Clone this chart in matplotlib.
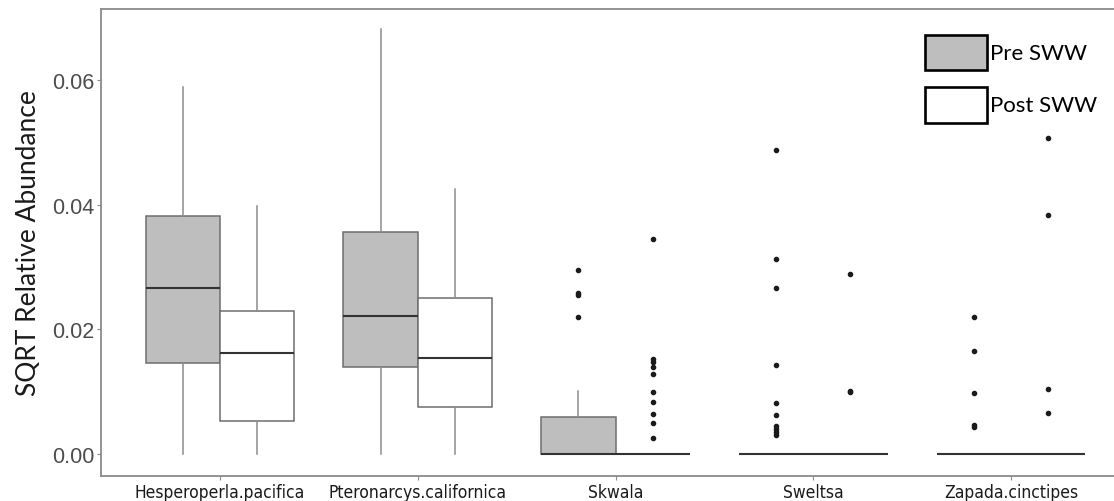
import matplotlib
matplotlib.use("Agg")
import matplotlib.pyplot as plt
from matplotlib.patches import Rectangle
from matplotlib import font_manager

# --- data -----------------------------------------------------------------
taxa = ["Hesperoperla.pacifica", "Pteronarcys.californica", "Skwala",
        "Sweltsa", "Zapada.cinctipes"]

# five-number summaries: (whisker low, Q1, median, Q3, whisker high)
pre_stats = [
    (0.0, 0.0146, 0.0267, 0.0383, 0.0589),
    (0.0, 0.0139, 0.0221, 0.0356, 0.0683),
    (0.0, 0.0, 0.0, 0.0060, 0.0102),
    (0.0, 0.0, 0.0, 0.0, 0.0),
    (0.0, 0.0, 0.0, 0.0, 0.0),
]
post_stats = [
    (0.0, 0.0053, 0.0162, 0.0229, 0.0399),
    (0.0, 0.0076, 0.0154, 0.0250, 0.0425),
    (0.0, 0.0, 0.0, 0.0, 0.0),
    (0.0, 0.0, 0.0, 0.0, 0.0),
    (0.0, 0.0, 0.0, 0.0, 0.0),
]

pre_outliers = [
    [],
    [],
    [0.0296, 0.0259, 0.0256, 0.0220],
    [0.0489, 0.0313, 0.0266, 0.0143, 0.0082, 0.0063, 0.0045, 0.0040,
     0.0035, 0.0030],
    [0.0220, 0.0166, 0.0098, 0.0047, 0.0044],
]
post_outliers = [
    [],
    [],
    [0.0346, 0.0152, 0.0148, 0.0139, 0.0129, 0.0099, 0.0084, 0.0065,
     0.0050, 0.0026],
    [0.0289, 0.0102, 0.0099],
    [0.0508, 0.0384, 0.0104, 0.0066],
]

y_ticks = [0.00, 0.02, 0.04, 0.06]
y_tick_labels = ["0.00", "0.02", "0.04", "0.06"]
groups = ["Pre SWW", "Post SWW"]

# --- styling ----------------------------------------------------------------
PRE_FILL = "#bebebe"
POST_FILL = "#ffffff"
EDGE = "#6e6e6e"
WHISK = "#8c8c8c"
MED = "#333333"
AXIS_GREY = "#8a8a8a"
TICK_TXT = "#4d4d4d"


def pick_narrow_font():
    """Find a condensed sans face for the category labels, if one is installed."""
    preferred = ["Liberation Sans Narrow", "DejaVu Sans Condensed"]
    entries = font_manager.fontManager.ttflist
    for want in preferred:
        for f in entries:
            if f.name == want and f.weight in (400, "normal", "regular"):
                return f.fname
    for f in entries:
        if f.name.startswith("DejaVu Sans") and f.stretch == "condensed" \
                and f.style == "normal" and f.weight in (400, "normal"):
            return f.fname
    for f in entries:
        if ("Narrow" in f.name or "Condensed" in f.name) and f.style == "normal":
            return f.fname
    return None


narrow_file = pick_narrow_font()
if narrow_file:
    xtick_font = font_manager.FontProperties(fname=narrow_file, size=12.5)
else:
    xtick_font = font_manager.FontProperties(family="Liberation Sans", size=12)

W, H = 1114, 502
fig = plt.figure(figsize=(W / 100, H / 100), dpi=100)
fig.patch.set_facecolor("white")

# plot panel: left edge at 101 px, top 10 px, bottom 477 px (panel runs past the right edge)
left = 101 / W
right_px = 1130
ax = fig.add_axes([left, (H - 477) / H, (right_px - 101) / W, (477 - 10) / H])


def make_stats(rows, fliers, label):
    out = []
    for (lo, q1, med, q3, hi), fl in zip(rows, fliers):
        out.append(dict(whislo=lo, q1=q1, med=med, q3=q3, whishi=hi,
                        fliers=fl, label=label))
    return out


box_w = 0.375
pos = list(range(1, len(taxa) + 1))
for stats, shift, fill in [(make_stats(pre_stats, pre_outliers, groups[0]), -box_w / 2, PRE_FILL),
                           (make_stats(post_stats, post_outliers, groups[1]), box_w / 2, POST_FILL)]:
    ax.bxp(stats, positions=[p + shift for p in pos], widths=box_w,
           patch_artist=True, showcaps=False,
           boxprops=dict(facecolor=fill, edgecolor=EDGE, linewidth=1.1),
           whiskerprops=dict(color=WHISK, linewidth=1.1),
           medianprops=dict(color=MED, linewidth=1.5),
           flierprops=dict(marker="o", markersize=3.0, markerfacecolor="#1a1a1a",
                           markeredgecolor="#1a1a1a", linestyle="none"))

ax.set_xlim(0.4, 5.6)
ax.set_ylim(-0.00353, 0.07147)
ax.set_xticks(pos)
ax.set_xticklabels(taxa, fontproperties=xtick_font, color="#1a1a1a")
ax.set_yticks(y_ticks)
ax.set_yticklabels(y_tick_labels, family=["Liberation Sans", "DejaVu Sans"],
                   fontsize=15.5, color=TICK_TXT)
ax.tick_params(axis="both", direction="out", length=3, width=0.8, color=AXIS_GREY, pad=2)

for side in ["top", "left", "bottom", "right"]:
    ax.spines[side].set_color(AXIS_GREY)
    ax.spines[side].set_linewidth(1.3)

ax.set_ylabel("SQRT Relative Abundance", family=["Lato", "DejaVu Sans"],
              fontsize=19, color="#1a1a1a", labelpad=8)


# legend key drawn in figure pixels
def px_rect(x0, y0, x1, y1, fc):
    fig.patches.append(Rectangle((x0 / W, 1 - y1 / H), (x1 - x0) / W, (y1 - y0) / H,
                                 transform=fig.transFigure, facecolor=fc,
                                 edgecolor="black", linewidth=1.9, zorder=5))


px_rect(925, 36, 987, 71, PRE_FILL)
px_rect(925, 88, 987, 124, POST_FILL)
fig.text(990 / W, 1 - 54 / H, groups[0], family=["Lato", "DejaVu Sans"], fontsize=16,
         va="center", ha="left", color="black")
fig.text(990 / W, 1 - 106 / H, groups[1], family=["Lato", "DejaVu Sans"], fontsize=16,
         va="center", ha="left", color="black")

fig.savefig("out.png", dpi=100, facecolor="white")
